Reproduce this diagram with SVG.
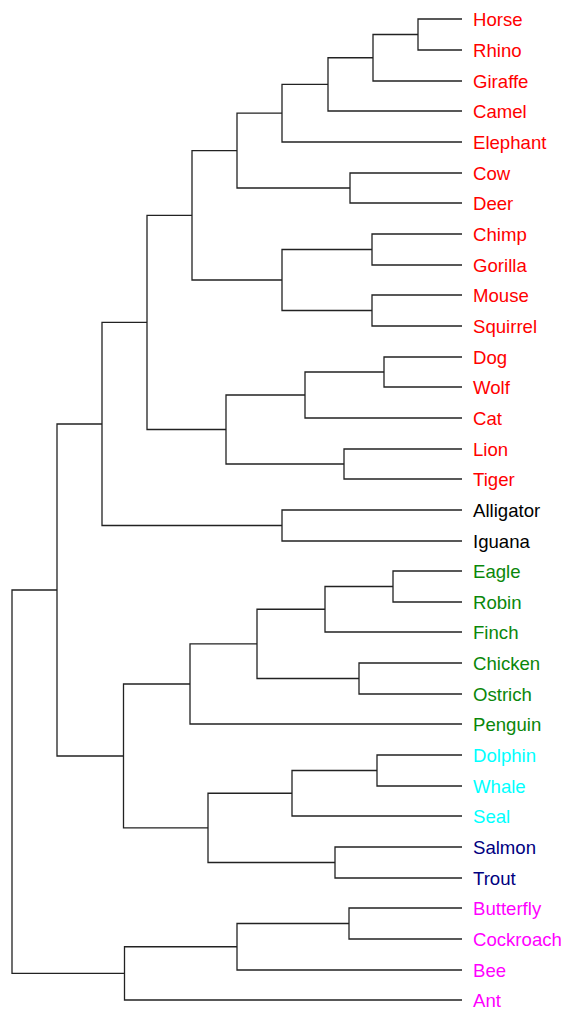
<svg xmlns="http://www.w3.org/2000/svg" width="566" height="1012" viewBox="0 0 566 1012">
<style>
.c path{fill:none;stroke:#222;stroke-width:1.3}
text{font-family:"Liberation Sans",Arial,sans-serif;font-size:18.6px}
.m{fill:#ff0000}.r{fill:#000}.b{fill:#0a870a}.w{fill:#00ffff}.f{fill:#000080}.i{fill:#ff00ff}
</style>
<rect width="566" height="1012" fill="#fff"/>
<g id="connectors" class="c">
<path d="M462 19H418V50H462"/>
<path d="M418 34.5H373V81H462"/>
<path d="M373 57.75H328V111H462"/>
<path d="M328 84.4H282V142H462"/>
<path d="M462 173H350V203H462"/>
<path d="M282 113.2H237V188H350"/>
<path d="M462 234H372V265H462"/>
<path d="M462 295H372V326H462"/>
<path d="M372 249.5H282V310.5H372"/>
<path d="M237 150.6H192V280H282"/>
<path d="M462 357H384V387H462"/>
<path d="M384 372H305V418H462"/>
<path d="M462 449H344V479H462"/>
<path d="M305 395H226V464H344"/>
<path d="M192 215.3H147V429.5H226"/>
<path d="M462 510H282V541H462"/>
<path d="M147 322.4H102V525.5H282"/>
<path d="M462 571H393V602H462"/>
<path d="M393 586.5H325V632H462"/>
<path d="M462 663H359V694H462"/>
<path d="M325 609.25H257V678.5H359"/>
<path d="M257 643.9H190V724H462"/>
<path d="M462 755H377V786H462"/>
<path d="M377 770.5H292V816H462"/>
<path d="M462 847H335V878H462"/>
<path d="M292 793.25H208V862.5H335"/>
<path d="M190 684H123.5V827.9H208"/>
<path d="M102 424H57V756H123.5"/>
<path d="M462 908H349V939H462"/>
<path d="M349 923.5H237V970H462"/>
<path d="M237 946.75H124.5V1000H462"/>
<path d="M57 590H12V973.4H124.5"/>
</g>
<g id="horse"><text class="m" x="473" y="26">Horse</text></g>
<g id="rhino"><text class="m" x="473" y="57">Rhino</text></g>
<g id="giraffe"><text class="m" x="473" y="88">Giraffe</text></g>
<g id="camel"><text class="m" x="473" y="118">Camel</text></g>
<g id="elephant"><text class="m" x="473" y="149">Elephant</text></g>
<g id="cow"><text class="m" x="473" y="180">Cow</text></g>
<g id="deer"><text class="m" x="473" y="210">Deer</text></g>
<g id="chimp"><text class="m" x="473" y="241">Chimp</text></g>
<g id="gorilla"><text class="m" x="473" y="272">Gorilla</text></g>
<g id="mouse"><text class="m" x="473" y="302">Mouse</text></g>
<g id="squirrel"><text class="m" x="473" y="333">Squirrel</text></g>
<g id="dog"><text class="m" x="473" y="364">Dog</text></g>
<g id="wolf"><text class="m" x="473" y="394">Wolf</text></g>
<g id="cat"><text class="m" x="473" y="425">Cat</text></g>
<g id="lion"><text class="m" x="473" y="456">Lion</text></g>
<g id="tiger"><text class="m" x="473" y="486">Tiger</text></g>
<g id="alligator"><text class="r" x="473" y="517">Alligator</text></g>
<g id="iguana"><text class="r" x="473" y="548">Iguana</text></g>
<g id="eagle"><text class="b" x="473" y="578">Eagle</text></g>
<g id="robin"><text class="b" x="473" y="609">Robin</text></g>
<g id="finch"><text class="b" x="473" y="639">Finch</text></g>
<g id="chicken"><text class="b" x="473" y="670">Chicken</text></g>
<g id="ostrich"><text class="b" x="473" y="701">Ostrich</text></g>
<g id="penguin"><text class="b" x="473" y="731">Penguin</text></g>
<g id="dolphin"><text class="w" x="473" y="762">Dolphin</text></g>
<g id="whale"><text class="w" x="473" y="793">Whale</text></g>
<g id="seal"><text class="w" x="473" y="823">Seal</text></g>
<g id="salmon"><text class="f" x="473" y="854">Salmon</text></g>
<g id="trout"><text class="f" x="473" y="885">Trout</text></g>
<g id="butterfly"><text class="i" x="473" y="915">Butterfly</text></g>
<g id="cockroach"><text class="i" x="473" y="946">Cockroach</text></g>
<g id="bee"><text class="i" x="473" y="977">Bee</text></g>
<g id="ant"><text class="i" x="473" y="1007">Ant</text></g>
</svg>
